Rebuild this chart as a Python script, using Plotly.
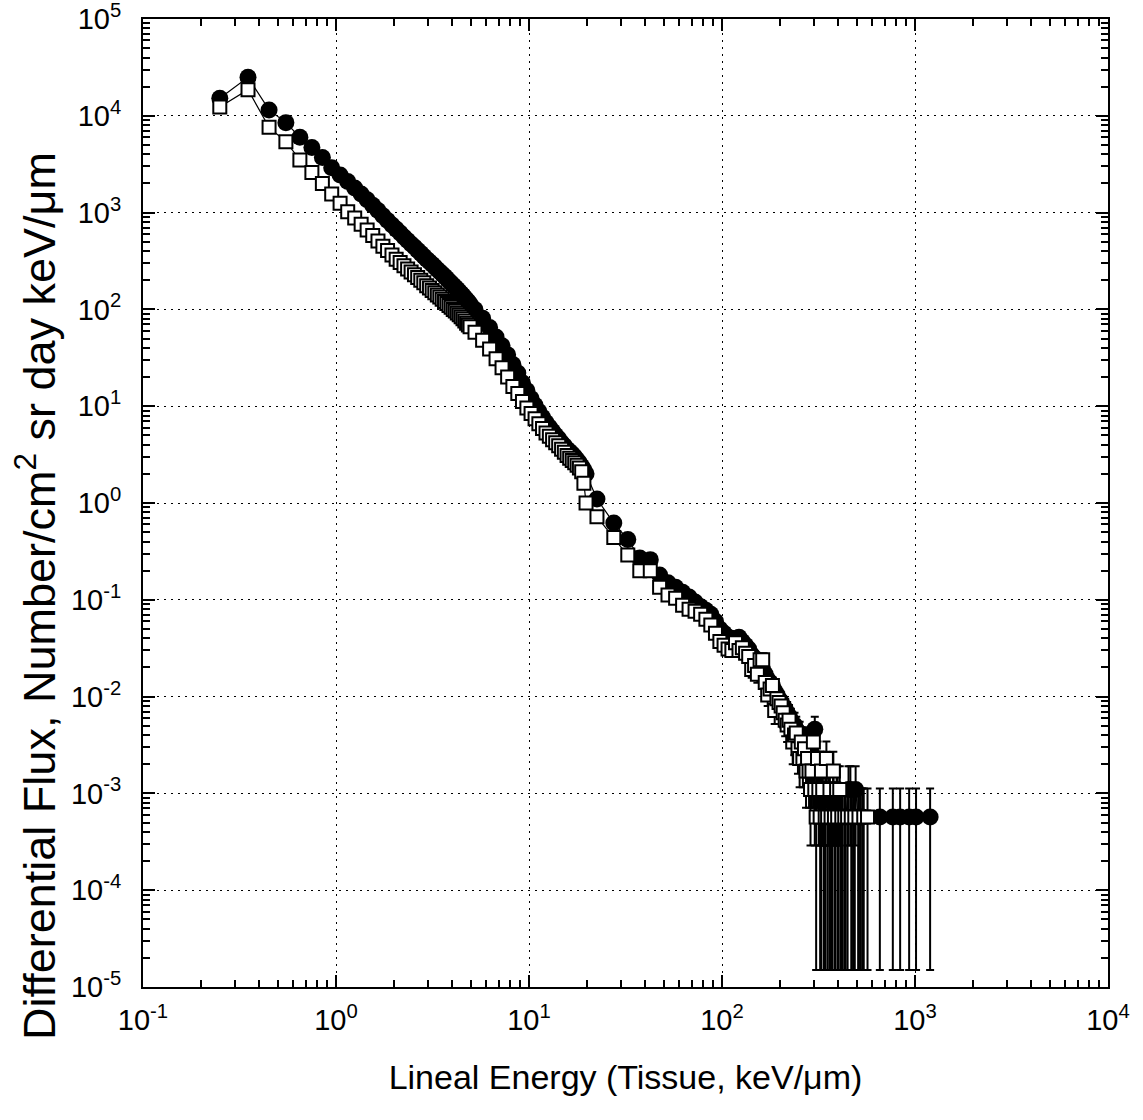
import plotly.graph_objects as go

# ---------------- data ----------------
x_dense = [0.25, 0.35, 0.45, 0.55, 0.65, 0.75, 0.85, 0.95, 1.05, 1.15,
           1.25, 1.35, 1.45, 1.55, 1.65, 1.75, 1.85, 1.95, 2.05, 2.15,
           2.25, 2.35, 2.45, 2.55, 2.65, 2.75, 2.85, 2.95, 3.05, 3.15,
           3.25, 3.35, 3.45, 3.55, 3.65, 3.75, 3.85, 3.95, 4.05, 4.15,
           4.25, 4.35, 4.45, 4.55, 4.65, 4.75, 4.85, 4.95,
           5.25, 5.75, 6.25, 6.75, 7.25, 7.75, 8.25, 8.75, 9.25, 9.75,
           10.25, 10.75, 11.25, 11.75, 12.25, 12.75, 13.25, 13.75, 14.25, 14.75,
           15.25, 15.75, 16.25, 16.75, 17.25, 17.75, 18.25, 18.75, 19.25, 19.75]

circ_dense = [15200, 25000, 11500, 8500, 6000, 4700, 3700, 2900, 2440, 2100,
              1800, 1560, 1360, 1190, 1050, 930, 830, 745, 675, 615,
              560, 515, 475, 440, 408, 380, 354, 330, 310, 292,
              275, 259, 245, 232, 220, 208, 197, 187, 178, 169,
              161, 153, 146, 139, 132, 126, 120, 114,
              100, 81, 65, 52, 42, 34, 27, 22, 17.5, 14.5,
              12, 10.2, 8.8, 7.7, 6.8, 6.1, 5.5, 5.0, 4.6, 4.2,
              3.9, 3.6, 3.4, 3.2, 3.0, 2.8, 2.6, 2.4, 2.2, 2.0]

sq_dense = [12300, 18600, 7600, 5400, 3500, 2600, 2000, 1560, 1250, 1020,
            880, 760, 660, 580, 510, 450, 405, 365, 330, 305,
            282, 262, 244, 228, 213, 200, 188, 176, 166, 157,
            149, 141, 134, 127, 121, 115, 110, 105, 100, 96,
            92, 88, 84, 80, 76, 72, 69, 66,
            58, 48, 39, 31, 25, 20, 16, 13.5, 11.2, 9.6,
            8.4, 7.4, 6.6, 5.9, 5.3, 4.9, 4.5, 4.2, 3.9, 3.6,
            3.35, 3.1, 2.9, 2.75, 2.6, 2.45, 2.3, 2.1, 1.6, 1.0]

x_circ_tail = [22.5, 27.5, 32.5, 37.5, 42.5, 47.5, 52.5, 57.5, 62.5, 67.5,
               72.5, 77.5, 82.5, 87.5, 92.5, 97.5, 102.5, 107.5, 112.5, 117.5,
               122.5, 127.5, 132.5, 137.5, 142.5, 147.5, 152.5, 157.5, 162.5, 167.5,
               172.5, 177.5, 182.5, 187.5, 192.5, 197.5, 202.5, 207.5, 212.5, 217.5,
               222.5, 227.5, 232.5, 237.5, 242.5, 247.5, 252.5, 257.5, 262.5, 267.5,
               272.5, 277.5, 282.5, 287.5, 292.5, 297.5, 302.5, 307.5, 312.5, 317.5,
               322.5, 327.5, 332.5, 337.5, 342.5, 347.5, 352.5, 357.5, 362.5, 372.5,
               377.5, 387.5, 397.5, 402.5, 412.5, 422.5, 437.5, 452.5, 462.5, 477.5,
               492.5, 507.5, 522.5, 532.5, 657.5, 767.5, 837.5, 932.5, 1012.5, 1197.5]

circ_tail = [1.1, 0.62, 0.42, 0.27, 0.26, 0.18, 0.15, 0.135, 0.12, 0.107,
             0.095, 0.085, 0.078, 0.071, 0.06, 0.05, 0.045, 0.041, 0.040, 0.039,
             0.041, 0.037, 0.034, 0.031, 0.027, 0.025, 0.022, 0.021, 0.019, 0.017,
             0.015, 0.014, 0.013, 0.0115, 0.0105, 0.0095, 0.0088, 0.008, 0.0074, 0.0068,
             0.0063, 0.0057, 0.0051, 0.0051, 0.0046, 0.0040, 0.0040, 0.0034, 0.0034, 0.0029,
             0.0034, 0.0029, 0.0023, 0.0029, 0.0023, 0.0017, 0.0046, 0.0023, 0.0017, 0.0011,
             0.0017, 0.00057, 0.0011, 0.00057, 0.0011, 0.0017, 0.00057, 0.0011, 0.00057, 0.00057,
             0.0011, 0.00057, 0.0011, 0.00057, 0.00057, 0.00057, 0.00057, 0.0011, 0.0011, 0.00057,
             0.0011, 0.00057, 0.00057, 0.00057, 0.00057, 0.00057, 0.00057, 0.00057, 0.00057, 0.00057]

circ_tail_err = [0.025, 0.019, 0.0155, 0.0124, 0.0122, 0.0101, 0.0092, 0.0088, 0.0083, 0.0078,
                 0.0074, 0.007, 0.0067, 0.0064, 0.0058, 0.0053, 0.0051, 0.0048, 0.0048, 0.0047,
                 0.0048, 0.0046, 0.0044, 0.0042, 0.0039, 0.0038, 0.0035, 0.0035, 0.0033, 0.0031,
                 0.0029, 0.0028, 0.0027, 0.0026, 0.0024, 0.0023, 0.0022, 0.0021, 0.0021, 0.002,
                 0.0019, 0.0018, 0.0017, 0.0017, 0.0016, 0.0015, 0.0015, 0.0014, 0.0014, 0.0013,
                 0.0014, 0.0013, 0.00114, 0.0013, 0.00114, 0.00099, 0.0016, 0.00114, 0.00099, 0.00081,
                 0.00099, 0.000555, 0.00081, 0.000555, 0.00081, 0.00099, 0.000555, 0.00081, 0.000555, 0.000555,
                 0.00081, 0.000555, 0.00081, 0.000555, 0.000555, 0.000555, 0.000555, 0.00081, 0.00081, 0.000555,
                 0.00081, 0.000555, 0.000555, 0.000555, 0.000555, 0.000555, 0.000555, 0.000555, 0.000555, 0.000555]

x_sq_tail = [22.5, 27.5, 32.5, 37.5, 42.5, 47.5, 52.5, 57.5, 62.5, 67.5,
             72.5, 77.5, 82.5, 87.5, 92.5, 97.5, 102.5, 107.5, 112.5, 117.5,
             122.5, 127.5, 132.5, 137.5, 142.5, 147.5, 152.5, 157.5, 162.5, 167.5,
             172.5, 177.5, 182.5, 187.5, 192.5, 197.5, 202.5, 207.5, 212.5, 217.5,
             222.5, 227.5, 232.5, 237.5, 242.5, 247.5, 252.5, 257.5, 262.5, 267.5,
             272.5, 277.5, 282.5, 287.5, 292.5, 297.5, 302.5, 307.5, 312.5, 317.5,
             322.5, 327.5, 332.5, 342.5, 347.5, 352.5, 362.5, 367.5, 377.5, 382.5,
             392.5, 397.5, 407.5, 417.5, 432.5, 447.5, 467.5, 487.5, 512.5, 542.5, 567.5]

sq_tail = [0.72, 0.44, 0.29, 0.20, 0.20, 0.135, 0.112, 0.104, 0.088, 0.080,
           0.076, 0.071, 0.063, 0.055, 0.045, 0.037, 0.034, 0.031, 0.030, 0.036,
           0.030, 0.032, 0.028, 0.026, 0.019, 0.021, 0.017, 0.024, 0.024, 0.014,
           0.0104, 0.012, 0.013, 0.0072, 0.0095, 0.0087, 0.0080, 0.0068, 0.0057, 0.0051,
           0.0057, 0.0046, 0.0034, 0.0040, 0.0042, 0.0029, 0.0023, 0.0034, 0.0023, 0.0029,
           0.0017, 0.0023, 0.0017, 0.0011, 0.0017, 0.0034, 0.0011, 0.00057, 0.0023, 0.0011,
           0.00057, 0.0017, 0.0011, 0.00057, 0.0023, 0.00057, 0.0011, 0.00057, 0.0017, 0.00057,
           0.0011, 0.00057, 0.0011, 0.00057, 0.00057, 0.00057, 0.00057, 0.00057, 0.00057, 0.00057, 0.00057]

sq_tail_err = [0.02, 0.016, 0.0129, 0.0107, 0.0107, 0.0088, 0.008, 0.0077, 0.0071, 0.0068,
               0.0066, 0.0064, 0.006, 0.0056, 0.0051, 0.0046, 0.0044, 0.0042, 0.0041, 0.0045,
               0.0041, 0.0043, 0.004, 0.0038, 0.0033, 0.0035, 0.0031, 0.0037, 0.0037, 0.0028,
               0.0024, 0.0026, 0.0027, 0.002, 0.0023, 0.0022, 0.0021, 0.002, 0.0018, 0.0017,
               0.0018, 0.0016, 0.0014, 0.0015, 0.0015, 0.0013, 0.00114, 0.0014, 0.00114, 0.0013,
               0.00099, 0.00114, 0.00099, 0.00081, 0.00099, 0.0014, 0.00081, 0.000555, 0.00114, 0.00081,
               0.000555, 0.00099, 0.00081, 0.000555, 0.00114, 0.000555, 0.00081, 0.000555, 0.00099, 0.000555,
               0.00081, 0.000555, 0.00081, 0.000555, 0.000555, 0.000555, 0.000555, 0.000555, 0.000555, 0.000555, 0.000555]

x_tick_exp = [-1, 0, 1, 2, 3, 4]
y_tick_exp = [-5, -4, -3, -2, -1, 0, 1, 2, 3, 4, 5]

x_title = "Lineal Energy (Tissue, keV/\u03bcm)"
y_title = "Differential Flux, Number/cm<sup>2</sup> sr day keV/\u03bcm"

# ---------------- figure ----------------
FONT = "Liberation Sans, Arial, Helvetica, sans-serif"

x_circ = x_dense + x_circ_tail
y_circ = circ_dense + circ_tail
e_circ = [0.0] * len(x_dense) + circ_tail_err

x_sq = x_dense + x_sq_tail
y_sq = sq_dense + sq_tail
e_sq = [0.0] * len(x_dense) + sq_tail_err

fig = go.Figure()
fig.add_trace(go.Scatter(
    x=x_circ, y=y_circ, mode="lines+markers",
    line=dict(color="black", width=1.2),
    marker=dict(symbol="circle", size=17, color="black"),
    error_y=dict(type="data", array=e_circ, visible=True, color="black",
                 thickness=2, width=4),
    showlegend=False,
))
fig.add_trace(go.Scatter(
    x=x_sq, y=y_sq, mode="lines+markers",
    line=dict(color="black", width=1.2),
    marker=dict(symbol="square", size=13, color="white",
                line=dict(color="black", width=2)),
    error_y=dict(type="data", array=e_sq, visible=True, color="black",
                 thickness=2, width=4),
    showlegend=False,
))


def minor_vals(exps):
    vals = []
    for e in exps[:-1]:
        for m in range(2, 10):
            vals.append(m * 10.0 ** e)
    return vals


axis_common = dict(
    type="log", showline=True, linecolor="black", linewidth=2,
    mirror="allticks", ticks="inside", ticklen=12, tickwidth=1.5,
    tickcolor="black", showgrid=True, gridcolor="black", gridwidth=1,
    griddash="2px,5px", zeroline=False,
    tickfont=dict(family=FONT, size=29, color="black"),
    ticklabeloverflow="allow",
)

fig.update_xaxes(
    **axis_common,
    range=[-1, 4],
    tickmode="array",
    tickvals=[10.0 ** e for e in x_tick_exp],
    ticktext=[f"10<sup>{e}</sup>" for e in x_tick_exp],
    minor=dict(tickmode="array", tickvals=minor_vals(x_tick_exp),
               ticks="inside", ticklen=7, tickwidth=1.5, tickcolor="black",
               showgrid=False),
    title=dict(text=x_title,
               font=dict(family=FONT, size=34, color="black"), standoff=30),
    ticklabelstandoff=6,
)
fig.update_yaxes(
    **axis_common,
    range=[-5, 5],
    tickmode="array",
    tickvals=[10.0 ** e for e in y_tick_exp],
    ticktext=[f"10<sup>{e}</sup>" for e in y_tick_exp],
    minor=dict(tickmode="array", tickvals=minor_vals(y_tick_exp),
               ticks="inside", ticklen=7, tickwidth=1.5, tickcolor="black",
               showgrid=False),
    ticklabelstandoff=14,
)

fig.add_annotation(
    text=y_title, textangle=-90, showarrow=False,
    xref="paper", yref="paper", x=-0.1109, y=0.404,
    xanchor="center", yanchor="middle",
    font=dict(family=FONT, size=45, color="black"),
)

fig.update_layout(
    width=1143, height=1120,
    margin=dict(l=143, r=35, t=19, b=133, autoexpand=False),
    paper_bgcolor="white", plot_bgcolor="white",
    font=dict(family=FONT, color="black"),
)

fig.write_html("out.html",
               config={"displayModeBar": False},
               post_script="document.body.style.margin='0';")
